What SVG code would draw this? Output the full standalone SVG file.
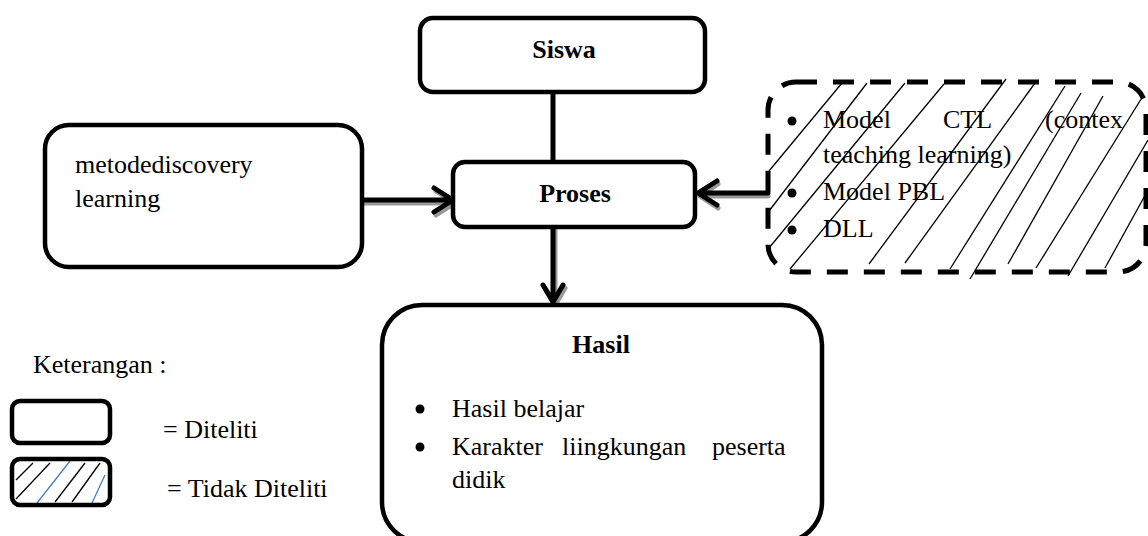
<svg xmlns="http://www.w3.org/2000/svg" width="1148" height="536" viewBox="0 0 1148 536">
<style>
text{font-family:"Liberation Serif","Times New Roman",serif;font-size:26px;fill:#000}
.b{font-weight:bold}
.box{fill:#fff;stroke:#000;stroke-width:4.5}
.dash{fill:none;stroke:#000;stroke-width:5;stroke-dasharray:21 16}
.hatch{stroke:#000;stroke-width:1.3}
.blue{stroke:#4a7ec2;stroke-width:1.3}
.bul{fill:#000}
.conn{fill:none;stroke:#000;stroke-width:5;stroke-linecap:round;stroke-linejoin:round}
.shadow{fill:none;stroke:#9a9a9a;stroke-width:5;stroke-linecap:round;stroke-linejoin:round}
</style>
<rect width="1148" height="536" fill="#fff"/>

<g id="connectors">
  <line x1="553" y1="92" x2="553" y2="162" class="conn" stroke-width="4.5"/>
  <path d="M363 203 H452 M436 191 L455 203 L436 215" class="shadow"/>
  <path d="M362 200 H451 M434 188 L453 200 L434 212" class="conn"/>
  <path d="M768 196 H700 M718 184 L700 196 L718 208" class="shadow"/>
  <path d="M768 193 H698 M717 181 L698 193 L717 205" class="conn"/>
  <path d="M555 229 V302 M545 288 L555 305 L565 288" class="shadow"/>
  <path d="M553 227 V300 M543 285 L553 302 L563 285" class="conn"/>
</g>

<g id="siswa">
  <rect x="420" y="18" width="285" height="74" rx="13" class="box"/>
  <text x="564" y="58" class="b" text-anchor="middle">Siswa</text>
</g>

<g id="proses">
  <rect x="453" y="162" width="242" height="65" rx="12" class="box"/>
  <text x="575" y="202" class="b" text-anchor="middle">Proses</text>
</g>

<g id="metode">
  <rect x="45" y="125" width="317" height="142" rx="24" class="box"/>
  <text x="75" y="173">metodediscovery</text>
  <text x="75" y="207">learning</text>
</g>

<g id="model">
  <g class="hatch">
    <line x1="769" y1="171" x2="842" y2="83"/>
    <line x1="769" y1="211" x2="867" y2="83"/>
    <line x1="769" y1="248" x2="905" y2="83"/>
    <line x1="790" y1="269" x2="944" y2="84"/>
    <line x1="869" y1="264" x2="1006" y2="79"/>
    <line x1="905" y1="263" x2="1035" y2="83"/>
    <line x1="950" y1="269" x2="1065" y2="86"/>
    <line x1="970" y1="279" x2="1081" y2="93"/>
    <line x1="1008" y1="264" x2="1103" y2="96"/>
    <line x1="1036" y1="268" x2="1143" y2="96"/>
    <line x1="1068" y1="276" x2="1148" y2="140"/>
    <line x1="1105" y1="268" x2="1148" y2="190"/>
  </g>
  <rect x="768" y="82" width="378" height="190" rx="28" class="dash"/>
  <circle cx="792" cy="121" r="4.5" class="bul"/>
  <text x="823" y="128">Model</text>
  <text x="943" y="128">CTL</text>
  <text x="1045" y="128">(contex</text>
  <text x="823" y="163">teaching learning)</text>
  <circle cx="792" cy="193" r="4.5" class="bul"/>
  <text x="823" y="200">Model PBL</text>
  <circle cx="792" cy="230" r="4.5" class="bul"/>
  <text x="823" y="237">DLL</text>
</g>

<g id="hasil">
  <rect x="382" y="305" width="440" height="237" rx="40" class="box"/>
  <text x="601" y="353" class="b" text-anchor="middle">Hasil</text>
  <circle cx="420" cy="409" r="4.5" class="bul"/>
  <text x="452" y="417">Hasil belajar</text>
  <circle cx="420" cy="447" r="4.5" class="bul"/>
  <text x="452" y="455">Karakter</text>
  <text x="562" y="455">liingkungan</text>
  <text x="712" y="455">peserta</text>
  <text x="452" y="488">didik</text>
</g>

<g id="legend">
  <text x="33" y="373">Keterangan :</text>
  <rect x="12" y="401" width="98" height="42" rx="8" class="box"/>
  <text x="163" y="438">= Diteliti</text>
  <g>
    <line x1="16" y1="480" x2="33" y2="463" class="hatch"/>
    <line x1="16" y1="499" x2="50" y2="463" class="hatch"/>
    <line x1="37" y1="503" x2="70" y2="461" class="blue"/>
    <line x1="55" y1="502" x2="85" y2="463" class="hatch"/>
    <line x1="72" y1="502" x2="100" y2="463" class="hatch"/>
    <line x1="92" y1="503" x2="105" y2="475" class="blue"/>
  </g>
  <rect x="12" y="459" width="98" height="46" rx="8" fill="none" stroke="#000" stroke-width="4.5"/>
  <text x="167" y="497">= Tidak Diteliti</text>
</g>
</svg>
